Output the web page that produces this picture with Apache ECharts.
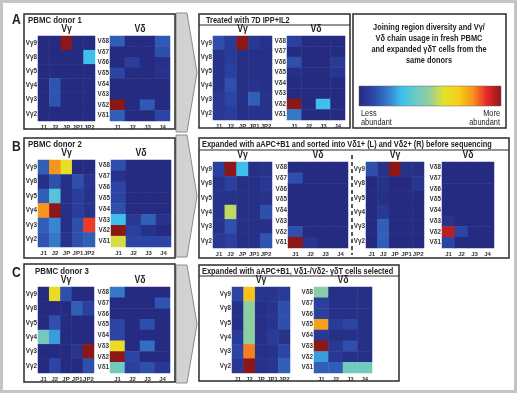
<!DOCTYPE html>
<html>
<head>
<meta charset="utf-8">
<script src="https://cdn.jsdelivr.net/npm/echarts@6/dist/echarts.min.js"></script>
<style>
  html, body { margin: 0; padding: 0; background: #fff; }
  #chart { width: 520px; height: 396px; }
</style>
</head>
<body>
<div id="chart"></div>
<script>
// axis categories
const vgRows = ["Vγ9", "Vγ8", "Vγ5", "Vγ4", "Vγ3", "Vγ2"];
const vgCols = ["J1", "J2", "JP", "JP1", "JP2"];
const vdRows = ["Vδ8", "Vδ7", "Vδ6", "Vδ5", "Vδ4", "Vδ3", "Vδ2", "Vδ1"];
const vdCols = ["J1", "J2", "J3", "J4"];

// relative abundance 0..1, rows top -> bottom
const donor1Vg = [
  [0, 0, 1.0, 0, 0],
  [0, 0, 0, 0, 0.3],
  [0, 0, 0, 0, 0],
  [0, 0.13, 0, 0, 0],
  [0, 0.13, 0, 0, 0],
  [0, 0, 0, 0, 0]
];
const donor1Vd = [
  [0.15, 0, 0, 0.14],
  [0, 0, 0, 0.12],
  [0, 0.07, 0, 0.02],
  [0.1, 0, 0, 0.03],
  [0, 0, 0, 0],
  [0, 0, 0, 0],
  [1.0, 0, 0.14, 0],
  [0.15, 0, 0, 0.1]
];
const treatedVg = [
  [0.12, 0.06, 1.0, 0.05, 0.03],
  [0.03, 0.06, 0.02, 0.02, 0.02],
  [0.03, 0.08, 0.02, 0.02, 0.02],
  [0.03, 0.12, 0.02, 0.03, 0.02],
  [0.05, 0.1, 0.02, 0.15, 0.03],
  [0.05, 0.07, 0.02, 0.03, 0.03]
];
const treatedVd = [
  [0.08, 0, 0, 0],
  [0, 0, 0, 0],
  [0.12, 0, 0, 0.06],
  [0.02, 0, 0, 0.04],
  [0, 0, 0, 0],
  [0, 0, 0, 0],
  [1.0, 0, 0.3, 0],
  [0.2, 0, 0, 0]
];
const donor2Vg = [
  [0.15, 0.8, 0.62, 0, 0],
  [0.02, 0.12, 0.02, 0.12, 0.04],
  [0.15, 0.35, 0.02, 0.07, 0.03],
  [0.8, 1.0, 0.02, 0.07, 0.03],
  [0.15, 0.22, 0.02, 0.12, 0.88],
  [0.13, 0.2, 0.03, 0.12, 0.15]
];
const donor2Vd = [
  [0.12, 0, 0, 0],
  [0.03, 0, 0, 0],
  [0.1, 0, 0, 0],
  [0.1, 0, 0, 0],
  [0.12, 0, 0, 0],
  [0.3, 0.05, 0.15, 0.03],
  [1.0, 0.08, 0.03, 0],
  [0.58, 0.1, 0.1, 0.1]
];
const sortLVg = [
  [0.08, 1.0, 0.3, 0.02, 0.03],
  [0.03, 0.08, 0.02, 0.02, 0.05],
  [0.03, 0.03, 0.02, 0.02, 0.03],
  [0.03, 0.55, 0.02, 0.02, 0.12],
  [0.03, 0.12, 0.02, 0.02, 0.02],
  [0.05, 0.08, 0.02, 0.02, 0.13]
];
const sortLVd = [
  [0, 0, 0, 0],
  [0.12, 0, 0, 0],
  [0, 0, 0, 0],
  [0, 0, 0, 0],
  [0, 0, 0, 0],
  [0, 0, 0, 0],
  [0.12, 0, 0, 0],
  [1.0, 0.04, 0, 0]
];
const sortRVg = [
  [0.12, 0.03, 1.0, 0.03, 0.02],
  [0, 0.03, 0, 0, 0.04],
  [0, 0.02, 0, 0, 0],
  [0, 0.05, 0, 0, 0],
  [0, 0.15, 0, 0, 0],
  [0, 0.15, 0, 0, 0]
];
const sortRVd = [
  [0, 0, 0, 0],
  [0, 0, 0, 0],
  [0, 0, 0, 0],
  [0, 0, 0, 0],
  [0, 0, 0, 0],
  [0.03, 0, 0, 0],
  [0.95, 0.1, 0, 0],
  [0.1, 0, 0, 0]
];
const donor3Vg = [
  [0, 0.63, 0.12, 0, 0],
  [0, 0, 0, 0.15, 0.08],
  [0, 0.12, 0, 0, 0],
  [0.42, 0.25, 0, 0, 0],
  [0, 0, 0, 0.04, 1.0],
  [0, 0.1, 0, 0, 0.12]
];
const donor3Vd = [
  [0.2, 0, 0, 0],
  [0, 0, 0, 0.13],
  [0, 0, 0, 0],
  [0.1, 0, 0.12, 0],
  [0.1, 0, 0, 0],
  [0.63, 0, 0.18, 0],
  [1.0, 0.1, 0, 0],
  [0.42, 0.08, 0.12, 0.05]
];
const selVg = [
  [0.1, 0.72, 0.04, 0.04, 0.06],
  [0.02, 0.48, 0.02, 0.04, 0.12],
  [0.02, 0.48, 0.02, 0.04, 0.12],
  [0.06, 0.48, 0.02, 0.06, 0.03],
  [0.1, 0.82, 0.02, 0.03, 0.1],
  [0.05, 1.0, 0.03, 0.04, 0.15]
];
const selVd = [
  [0.47, 0.02, 0.02, 0.02],
  [0.08, 0.02, 0.02, 0.02],
  [0.08, 0.02, 0.02, 0.02],
  [0.78, 0.06, 0.1, 0.02],
  [0.05, 0.02, 0.02, 0.02],
  [1.0, 0.05, 0.12, 0.02],
  [0.25, 0.05, 0.02, 0.02],
  [0.15, 0.15, 0.42, 0.42]
];

// jet-like colour scale
const jet = ["#252b80", "#2c45a5", "#3578c8", "#3ec0ec", "#6cc8c8", "#95cf9a",
  "#e4e22a", "#f9cf1a", "#f7941e", "#e8262b", "#8b1717"];

const FONT = "'Liberation Sans', Arial, sans-serif";
const INK = "#222";
const SQUEEZE = 0.87; // narrow the text like the condensed face of the original

let grids = [], xAxes = [], yAxes = [], series = [], graphics = [];

function addMap(left, top, width, height, rows, cols, values, title) {
  let i = grids.length;
  grids.push({ left: left, top: top, width: width, height: height,
    show: true, backgroundColor: jet[0], borderWidth: 0 });
  xAxes.push({
    type: "category", gridIndex: i, data: cols, z: 6,
    axisLine: { show: false }, axisTick: { show: false }, splitLine: { show: false },
    axisLabel: { interval: 0, margin: 3, fontSize: 6, fontWeight: "bold", color: "#333", fontFamily: FONT }
  });
  yAxes.push({
    type: "category", gridIndex: i, data: rows, inverse: true, z: 6,
    axisLine: { show: false }, axisTick: { show: false }, splitLine: { show: false },
    axisLabel: { interval: 0, margin: 1, fontSize: 6.3, fontWeight: "bold", color: "#333", fontFamily: FONT }
  });
  let data = [];
  values.forEach(function(row, r) {
    row.forEach(function(v, c) { data.push([c, r, v]); });
  });
  series.push({
    type: "heatmap", xAxisIndex: i, yAxisIndex: i, data: data, z: 5,
    itemStyle: { borderWidth: 0 }, emphasis: { disabled: true }, silent: true
  });
  label(title, left + width / 2, top - 12, 10, "bold", "center");
}

function box(x, y, w, h) {
  graphics.push({
    type: "rect", z: 1,
    shape: { x: x, y: y, width: w, height: h },
    style: { fill: "#fff", stroke: "#2b2b2b", lineWidth: 1.5 }
  });
}
function hline(x1, x2, y) {
  graphics.push({
    type: "line", z: 2, shape: { x1: x1, y1: y, x2: x2, y2: y },
    style: { stroke: "#2b2b2b", lineWidth: 1.2 }
  });
}
function label(text, x, y, size, weight, align) {
  graphics.push({
    type: "text", x: x, y: y, z: 10, scaleX: SQUEEZE,
    style: { text: text, fontSize: size, fontWeight: weight || "bold", fill: INK,
      fontFamily: FONT, textAlign: align || "left", textVerticalAlign: "top" }
  });
}
function arrow(top, bottom) {
  let mid = (top + bottom) / 2;
  graphics.push({
    type: "polygon", z: 0,
    shape: { points: [[176, top], [187, top], [197, mid], [187, bottom], [176, bottom]] },
    style: { fill: "#d2d2d2", stroke: "#8c8c8c", lineWidth: 1 }
  });
}

// outer frame
graphics.push({
  type: "rect", z: 0, shape: { x: 1.5, y: 1.5, width: 514, height: 390 },
  style: { fill: "#fff", stroke: "#c4c4c4", lineWidth: 3 }
});

arrow(13, 132);
arrow(135, 257);
arrow(265, 383);

// panel boxes
box(24, 14, 151, 115);
box(199, 14, 151, 114);
box(353, 14, 153, 114);
box(24, 138, 151, 120);
box(199, 138, 310, 120);
box(24, 264, 151, 118);
box(199, 265, 200, 116);
hline(199, 350, 25);
hline(199, 509, 150);
hline(199, 399, 276);

// panel letters and headings
label("A", 12, 13, 14);
label("B", 12, 140, 14);
label("C", 12, 266, 14);
label("PBMC donor 1", 28, 16, 9);
label("PBMC donor 2", 28, 140, 9);
label("PBMC donor 3", 35, 267, 9);
label("Treated with 7D IPP+IL2", 206, 16, 8.5);
label("Expanded with aAPC+B1 and sorted into Vδ1+ (L) and Vδ2+ (R) before sequencing", 202, 140, 8.5);
label("Expanded with aAPC+B1, Vδ1-/Vδ2- γδT cells selected", 202, 267, 8.5);

// dashed separator in panel B
graphics.push({
  type: "line", z: 2, shape: { x1: 352, y1: 155, x2: 352, y2: 255 },
  style: { stroke: "#222", lineWidth: 1.5, lineDash: [4, 3] }
});

// legend box
["Joining region diversity and Vγ/", "Vδ chain usage in fresh PBMC",
 "and expanded γδT cells from the", "same donors"].forEach(function(t, k) {
  label(t, 429, 23 + k * 11, 8.5, "bold", "center");
});
graphics.push({
  type: "rect", z: 3, shape: { x: 359, y: 86, width: 142, height: 20 },
  style: {
    stroke: "#666", lineWidth: 0.5,
    fill: new echarts.graphic.LinearGradient(0, 0, 1, 0, jet.map(function(c, k) {
      return { offset: k / (jet.length - 1), color: c };
    }))
  }
});
label("Less", 361, 109, 8.5, "normal");
label("abundant", 361, 118, 8.5, "normal");
label("More", 500, 109, 8.5, "normal", "right");
label("abundant", 500, 118, 8.5, "normal", "right");

// heatmaps
addMap(38, 36, 57, 85, vgRows, vgCols, donor1Vg, "Vγ");
addMap(110, 36, 60, 85, vdRows, vdCols, donor1Vd, "Vδ");
addMap(213, 36, 59, 84, vgRows, vgCols, treatedVg, "Vγ");
addMap(287, 36, 58, 84, vdRows, vdCols, treatedVd, "Vδ");
addMap(38, 160, 57, 87, vgRows, vgCols, donor2Vg, "Vγ");
addMap(111, 160, 60, 87, vdRows, vdCols, donor2Vd, "Vδ");
addMap(213, 162, 59, 86, vgRows, vgCols, sortLVg, "Vγ");
addMap(288, 162, 60, 86, vdRows, vdCols, sortLVd, "Vδ");
addMap(366, 162, 58, 86, vgRows, vgCols, sortRVg, "Vγ");
addMap(442, 162, 52, 86, vdRows, vdCols, sortRVd, "Vδ");
addMap(38, 287, 56, 86, vgRows, vgCols, donor3Vg, "Vγ");
addMap(110, 287, 60, 86, vdRows, vdCols, donor3Vd, "Vδ");
addMap(232, 287, 58, 86, vgRows, vgCols, selVg, "Vγ");
addMap(314, 287, 58, 86, vdRows, vdCols, selVd, "Vδ");

let chart = echarts.init(document.getElementById("chart"));
chart.setOption({
  animation: false,
  backgroundColor: "#fff",
  grid: grids,
  xAxis: xAxes,
  yAxis: yAxes,
  visualMap: {
    show: false, type: "continuous", min: 0, max: 1,
    seriesIndex: series.map(function(s, k) { return k; }),
    inRange: { color: jet }
  },
  graphic: graphics,
  series: series
});
</script>
</body>
</html>
